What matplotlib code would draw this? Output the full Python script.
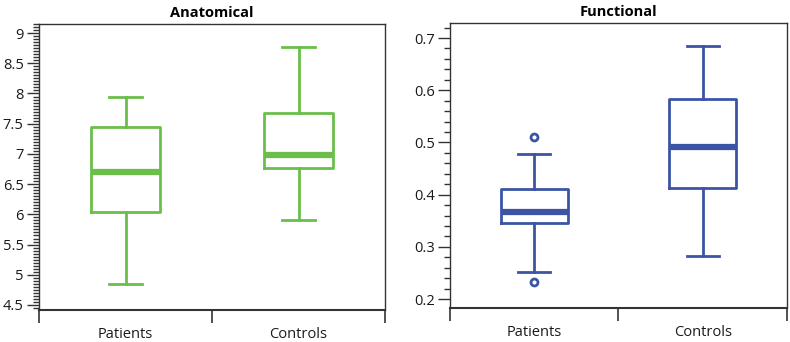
import matplotlib
matplotlib.use("Agg")
import matplotlib.pyplot as plt
from matplotlib.ticker import MultipleLocator, FixedLocator, NullFormatter, FuncFormatter

plt.rcParams['font.family'] = ['Open Sans', 'DejaVu Sans']

categories = ["Patients", "Controls"]

# Anatomical: whislo, q1, med, q3, whishi
anat_whislo = [4.84, 5.90]
anat_q1 = [6.04, 6.76]
anat_med = [6.70, 6.98]
anat_q3 = [7.44, 7.68]
anat_whishi = [7.94, 8.77]
anat_fliers = [[], []]

func_whislo = [0.251, 0.283]
func_q1 = [0.346, 0.413]
func_med = [0.367, 0.492]
func_q3 = [0.411, 0.583]
func_whishi = [0.478, 0.685]
func_fliers = [[0.511, 0.232], []]

green = "#6abf4b"
blue = "#3b54a5"


def stats(lo, q1, med, q3, hi, fl):
    return [dict(label=c, whislo=lo[i], q1=q1[i], med=med[i], q3=q3[i],
                 whishi=hi[i], fliers=fl[i]) for i, c in enumerate(categories)]


fig = plt.figure(figsize=(7.9, 3.42), dpi=100)
ax1 = fig.add_axes([0.0494, 0.0936, 0.438, 0.8362])
ax2 = fig.add_axes([0.5696, 0.0994, 0.4266, 0.8333])


def draw(ax, st, color, ylim, major, minor, title):
    lw = 2.0
    ax.bxp(st, positions=[0.5, 1.5], widths=0.4, showfliers=True,
           boxprops=dict(color=color, linewidth=lw),
           whiskerprops=dict(color=color, linewidth=lw),
           capprops=dict(color=color, linewidth=lw),
           medianprops=dict(color=color, linewidth=4.5, solid_capstyle='butt'),
           flierprops=dict(marker='o', markersize=5, markerfacecolor='white',
                           markeredgecolor=color, markeredgewidth=2),
           capwidths=0.19)
    ax.set_xlim(0, 2)
    ax.set_ylim(*ylim)
    ax.yaxis.set_major_locator(MultipleLocator(major))
    ax.yaxis.set_minor_locator(MultipleLocator(minor))
    ax.xaxis.set_major_locator(FixedLocator([0, 1, 2]))
    ax.xaxis.set_major_formatter(NullFormatter())
    ax.xaxis.set_minor_locator(FixedLocator([0.5, 1.5]))
    ax.set_xticklabels(categories, minor=True)
    ax.tick_params(axis='x', which='major', length=9, width=1.2, color='#333333', direction='out')
    ax.tick_params(axis='x', which='minor', length=0, pad=12, labelsize=10.5, labelcolor='#1a1a1a')
    ax.tick_params(axis='y', which='major', length=9, width=1.0, color='#333333', labelsize=10.5, labelcolor='#1a1a1a', pad=2)
    ax.tick_params(axis='y', which='minor', length=4, width=1.0, color='#333333')
    for s in ax.spines.values():
        s.set_color('#333333')
        s.set_linewidth(1.0)
    ax.spines['bottom'].set_linewidth(1.5)
    ax.set_title(title, fontsize=10.5, fontweight='bold', pad=5)


draw(ax1, stats(anat_whislo, anat_q1, anat_med, anat_q3, anat_whishi, anat_fliers),
     green, (4.417, 9.15), 0.5, 0.05, "Anatomical")
ax1.yaxis.set_major_formatter(FuncFormatter(lambda v, p: f"{v:g}"))
draw(ax2, stats(func_whislo, func_q1, func_med, func_q3, func_whishi, func_fliers),
     blue, (0.183, 0.7287), 0.1, 0.02, "Functional")
ax2.yaxis.set_major_formatter(FuncFormatter(lambda v, p: f"{v:.1f}"))

fig.savefig("out.png", dpi=100)
